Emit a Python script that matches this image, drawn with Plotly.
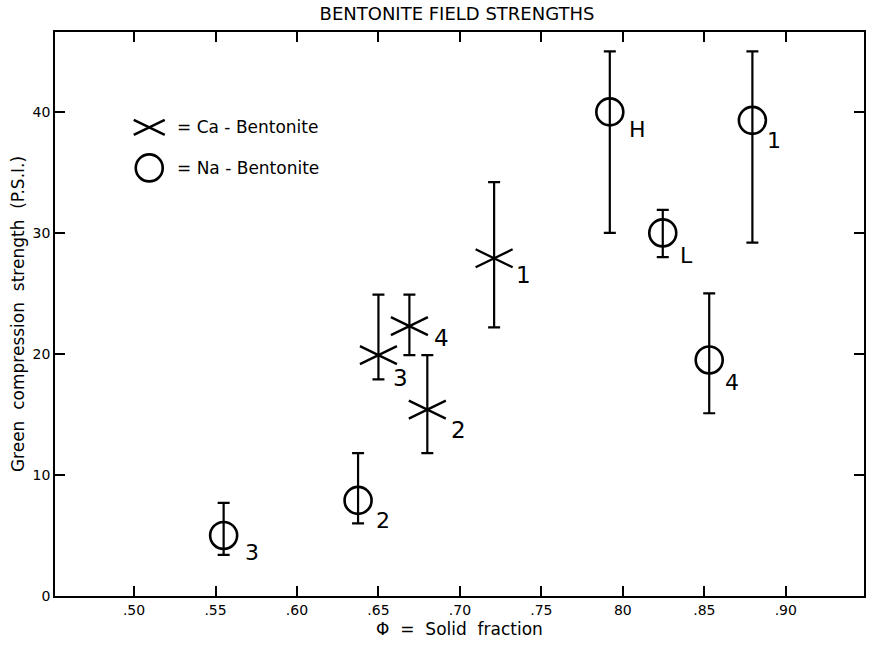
import plotly.graph_objects as go

# ---- data ----
ca_labels = ["1", "4", "3", "2"]
ca_phi = [0.721, 0.669, 0.650, 0.680]
ca_strength = [27.9, 22.3, 19.9, 15.4]
ca_err_plus = [6.3, 2.6, 5.0, 4.5]
ca_err_minus = [5.7, 2.4, 2.0, 3.6]

na_labels = ["H", "1", "L", "4", "2", "3"]
na_phi = [0.792, 0.8795, 0.8245, 0.853, 0.6375, 0.555]
na_strength = [40.0, 39.3, 30.0, 19.5, 7.9, 5.0]
na_err_plus = [5.0, 5.7, 1.9, 5.5, 3.9, 2.7]
na_err_minus = [10.0, 10.1, 2.0, 4.4, 1.9, 1.6]

x_tickvals = [0.50, 0.55, 0.60, 0.65, 0.70, 0.75, 0.80, 0.85, 0.90]
x_ticktext = [".50", ".55", ".60", ".65", ".70", ".75", "80", ".85", ".90"]
y_tickvals = [0, 10, 20, 30, 40]
y_ticktext = ["0", "10", "20", "30", "40"]

# label offsets in pixels (style, not data)
ca_label_shift = [(29, -17), (32, -12), (22, -23), (31, -20)]
na_label_shift = [(28, -18), (22, -20), (24, -23), (23, -23), (25, -20), (28, -17)]

FONT = "DejaVu Sans"
BLACK = "black"
NB = "\u00a0"

fig = go.Figure()

# Ca error bars (markers drawn as shapes)
fig.add_trace(go.Scatter(
    x=ca_phi, y=ca_strength, mode="markers",
    marker=dict(size=1, color=BLACK),
    error_y=dict(type="data", symmetric=False, array=ca_err_plus,
                 arrayminus=ca_err_minus, color=BLACK, thickness=2.2, width=6),
    showlegend=False, hoverinfo="skip"))

# Na points
fig.add_trace(go.Scatter(
    x=na_phi, y=na_strength, mode="markers",
    marker=dict(symbol="circle-open", size=27, color=BLACK,
                line=dict(width=2.6, color=BLACK)),
    error_y=dict(type="data", symmetric=False, array=na_err_plus,
                 arrayminus=na_err_minus, color=BLACK, thickness=2.2, width=6),
    showlegend=False, hoverinfo="skip"))

shapes = []
for xv, yv in zip(ca_phi, ca_strength):
    for sgn in (1, -1):
        shapes.append(dict(type="line", xref="x", yref="y",
                           xsizemode="pixel", ysizemode="pixel",
                           xanchor=xv, yanchor=yv,
                           x0=-18.5, x1=18.5, y0=-9 * sgn, y1=9 * sgn,
                           line=dict(color=BLACK, width=2.3)))

# legend glyphs
LX, LY1, LY2 = 0.1165, 0.831, 0.759
for sgn in (1, -1):
    shapes.append(dict(type="line", xref="paper", yref="paper",
                       xsizemode="pixel", ysizemode="pixel",
                       xanchor=LX, yanchor=LY1,
                       x0=-15.5, x1=15.5, y0=-7.5 * sgn, y1=7.5 * sgn,
                       line=dict(color=BLACK, width=2.5)))
shapes.append(dict(type="circle", xref="paper", yref="paper",
                   xsizemode="pixel", ysizemode="pixel",
                   xanchor=LX, yanchor=LY2,
                   x0=-13.5, x1=13.5, y0=-13.5, y1=13.5,
                   line=dict(color=BLACK, width=2.6)))

annotations = []
for lab, xv, yv, (dx, dy) in zip(ca_labels, ca_phi, ca_strength, ca_label_shift):
    annotations.append(dict(x=xv, y=yv, xref="x", yref="y", text=lab,
                            showarrow=False, xshift=dx, yshift=dy,
                            font=dict(family=FONT, size=23, color=BLACK)))
for lab, xv, yv, (dx, dy) in zip(na_labels, na_phi, na_strength, na_label_shift):
    annotations.append(dict(x=xv, y=yv, xref="x", yref="y", text=lab,
                            showarrow=False, xshift=dx, yshift=dy,
                            font=dict(family=FONT, size=22, color=BLACK)))

annotations.append(dict(x=0.1485, y=LY1, xref="paper", yref="paper",
                        text="=" + NB + "Ca - Bentonite", showarrow=False,
                        xanchor="left", yanchor="middle",
                        font=dict(family=FONT, size=17, color=BLACK)))
annotations.append(dict(x=0.1485, y=LY2, xref="paper", yref="paper",
                        text="=" + NB + "Na - Bentonite", showarrow=False,
                        xanchor="left", yanchor="middle",
                        font=dict(family=FONT, size=17, color=BLACK)))

fig.update_layout(
    width=869, height=646,
    margin=dict(l=55, r=3, t=32, b=50),
    paper_bgcolor="white", plot_bgcolor="white",
    font=dict(family=FONT, color=BLACK),
    title=dict(text="BENTONITE FIELD STRENGTHS", xref="container", yref="container",
               x=457 / 869, y=1 - 14 / 646, xanchor="center", yanchor="middle",
               font=dict(family=FONT, size=18, color=BLACK)),
    shapes=shapes, annotations=annotations,
    showlegend=False,
)

fig.update_xaxes(
    range=[0.4515, 0.948], tickmode="array", tickvals=x_tickvals, ticktext=x_ticktext,
    ticks="inside", ticklen=10, tickwidth=1.8, tickcolor=BLACK,
    showline=True, linewidth=1.8, linecolor=BLACK, mirror="ticks",
    showgrid=False, zeroline=False,
    tickfont=dict(family=FONT, size=14, color=BLACK),
    title=dict(text="Φ" + NB * 2 + "=" + NB * 2 + "Solid" + NB * 2 + "fraction", standoff=6,
               font=dict(family=FONT, size=17, color=BLACK)),
)
fig.update_yaxes(
    range=[0, 46.6], tickmode="array", tickvals=y_tickvals, ticktext=y_ticktext,
    ticks="inside", ticklen=10, tickwidth=1.8, tickcolor=BLACK,
    showline=True, linewidth=1.8, linecolor=BLACK, mirror="ticks",
    showgrid=False, zeroline=False,
    tickfont=dict(family=FONT, size=14, color=BLACK),
    title=dict(text="Green" + NB * 2 + "compression" + NB * 2 + "strength" + NB * 2 + "(P.S.I.)",
               standoff=4, font=dict(family=FONT, size=17, color=BLACK)),
)

fig.write_html("out.html", config={"displayModeBar": False},
               post_script="document.body.style.margin='0';document.body.style.overflow='hidden';")
